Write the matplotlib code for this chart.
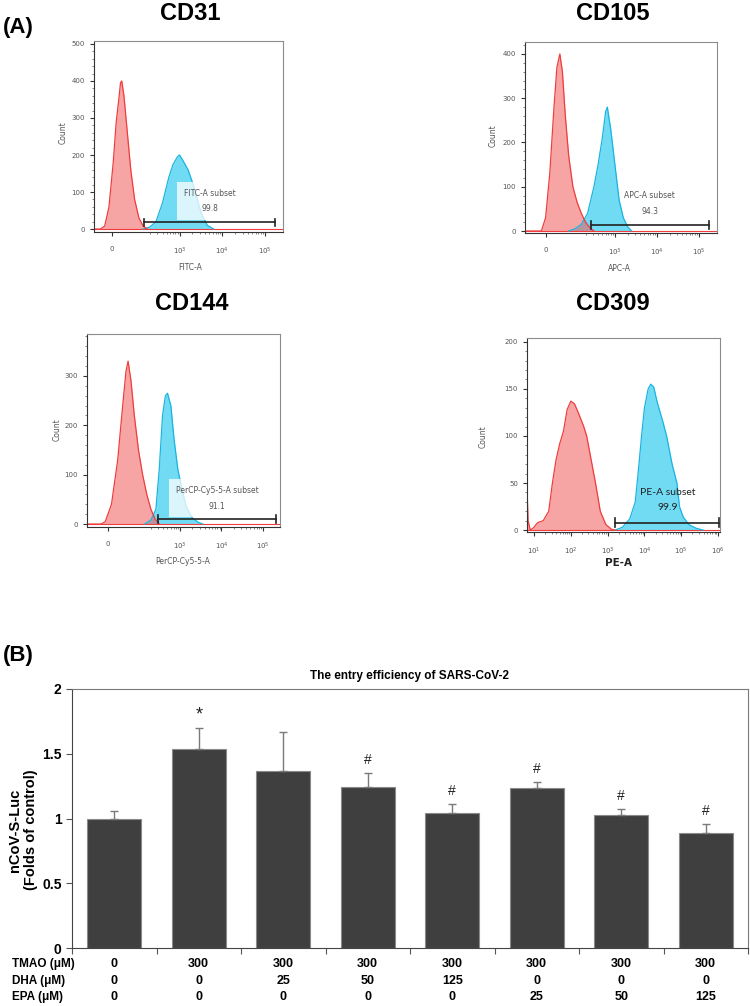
import numpy as np
import matplotlib
matplotlib.use('Agg')
import matplotlib.pyplot as plt

# ---- Panel A: flow cytometry histograms (x in decade units) ----
cd31_red_x = [1.00, 1.15, 1.25, 1.35, 1.45, 1.52, 1.58, 1.62, 1.65, 1.70, 1.78, 1.86, 1.95, 2.05, 2.15, 2.25]
cd31_red_y = [0, 0, 8, 60, 180, 290, 350, 395, 400, 360, 260, 160, 80, 30, 8, 0]
cd31_blue_x = [2.15, 2.30, 2.45, 2.60, 2.75, 2.85, 2.95, 3.00, 3.08, 3.20, 3.35, 3.50, 3.65, 3.80]
cd31_blue_y = [0, 5, 20, 70, 140, 175, 195, 200, 185, 160, 110, 45, 10, 0]

cd105_red_x = [0.86, 1.25, 1.35, 1.45, 1.55, 1.62, 1.69, 1.75, 1.82, 1.90, 2.00, 2.10, 2.20, 2.30, 2.40, 2.50]
cd105_red_y = [0, 0, 30, 130, 280, 370, 400, 360, 260, 170, 100, 65, 40, 20, 8, 0]
cd105_blue_x = [1.90, 2.05, 2.20, 2.35, 2.50, 2.60, 2.70, 2.78, 2.82, 2.90, 3.00, 3.10, 3.20, 3.30, 3.40]
cd105_blue_y = [0, 5, 15, 40, 100, 150, 210, 270, 280, 230, 150, 70, 30, 10, 0]

cd144_red_x = [0.76, 1.10, 1.20, 1.35, 1.50, 1.62, 1.70, 1.75, 1.82, 1.90, 2.00, 2.10, 2.20, 2.30, 2.40, 2.50]
cd144_red_y = [0, 0, 5, 40, 130, 240, 310, 330, 290, 220, 150, 100, 60, 30, 10, 0]
cd144_blue_x = [2.15, 2.30, 2.42, 2.50, 2.58, 2.65, 2.70, 2.78, 2.86, 2.95, 3.05, 3.15, 3.30, 3.45, 3.55]
cd144_blue_y = [0, 8, 30, 110, 220, 260, 265, 240, 170, 110, 70, 35, 12, 3, 0]

cd309_red_x = [0.81, 0.84, 0.90, 1.00, 1.10, 1.25, 1.40, 1.50, 1.60, 1.70, 1.80, 1.90, 2.00, 2.10, 2.20, 2.35, 2.43, 2.55, 2.67, 2.80, 2.95, 3.10, 3.20]
cd309_red_y = [45, 10, 0, 3, 8, 10, 20, 50, 75, 92, 105, 128, 137, 134, 125, 110, 100, 75, 50, 20, 6, 1, 0]
cd309_blue_x = [3.20, 3.40, 3.60, 3.75, 3.85, 3.92, 4.00, 4.10, 4.17, 4.25, 4.35, 4.50, 4.60, 4.75, 4.88, 4.95, 5.05, 5.20, 5.40, 5.60]
cd309_blue_y = [0, 3, 12, 30, 70, 100, 130, 150, 155, 152, 135, 115, 100, 70, 50, 25, 14, 6, 2, 0]

flow_titles = ['CD31', 'CD105', 'CD144', 'CD309']
flow_xlabels = ['FITC-A', 'APC-A', 'PerCP-Cy5-5-A', 'PE-A']
gate_names = ['FITC-A subset', 'APC-A subset', 'PerCP-Cy5-5-A subset', 'PE-A subset']
gate_pcts = ['99.8', '94.3', '91.1', '99.9']

# ---- Panel B: bar chart ----
bar_vals = [1.0, 1.54, 1.367, 1.24, 1.042, 1.235, 1.027, 0.888]
bar_errs = [0.055, 0.162, 0.30, 0.108, 0.068, 0.045, 0.043, 0.069]
bar_marks = ['', '*', '', '#', '#', '#', '#', '#']
tmao = ['0', '300', '300', '300', '300', '300', '300', '300']
dha = ['0', '0', '25', '50', '125', '0', '0', '0']
epa = ['0', '0', '0', '0', '0', '25', '50', '125']
row_names = ['TMAO (\u03bcM)', 'DHA (\u03bcM)', 'EPA (\u03bcM)']

W, H = 750, 1006
fig = plt.figure(figsize=(W / 100, H / 100), dpi=100)


def box(l, t, r, b):
    return [l / W, 1 - b / H, (r - l) / W, (b - t) / H]


def ftext(x, y, s, **kw):
    fig.text(x / W, 1 - y / H, s, **kw)


RED_F, RED_E = '#f25a5a', '#f03c3c'
BLUE_F, BLUE_E = '#14c4ee', '#1ab4e0'
TXT = '#555555'


def flow_axes(rect, xlim, ylim, ymaj, ymin_step, zero_pos, red, blue, gate, logx=False):
    ax = fig.add_axes(rect)
    ax.fill_between(blue[0], blue[1], color=BLUE_F, alpha=0.6, lw=0)
    ax.plot(blue[0], blue[1], color=BLUE_E, lw=0.9)
    ax.fill_between(red[0], red[1], color=RED_F, alpha=0.55, lw=0)
    ax.plot(red[0], red[1], color=RED_E, lw=0.9)
    ax.axhline(0, color=RED_E, lw=0.8, zorder=1)
    ax.set_xlim(*xlim)
    ax.set_ylim(*ylim)
    ax.set_yticks(ymaj)
    ax.set_yticks(np.arange(0, ylim[1], ymin_step), minor=True)
    ax.tick_params(axis='y', labelsize=5, colors='#333333', labelcolor=TXT, length=3, width=0.8)
    ax.tick_params(axis='y', which='minor', length=1.5, width=0.5, colors='#555555')
    if logx:
        major = [1, 2, 3, 4, 5, 6]
        labels = ['10$^{%d}$' % d for d in major]
        dec = [1, 2, 3, 4, 5]
    else:
        major = [zero_pos, 3, 4, 5]
        labels = ['0', '10$^{3}$', '10$^{4}$', '10$^{5}$']
        dec = [2, 3, 4]
    minor = [d + np.log10(k) for d in dec for k in range(2, 10)]
    ax.set_xticks(major)
    ax.set_xticklabels(labels)
    ax.set_xticks([m for m in minor if xlim[0] < m < xlim[1]], minor=True)
    ax.tick_params(axis='x', labelsize=5, labelcolor=TXT, colors='#333333', length=3, width=0.8, pad=7)
    ax.tick_params(axis='x', which='minor', length=1.5, width=0.5, colors='#555555')
    for s in ['top', 'right']:
        ax.spines[s].set_color('#8c8c8c')
    for s in ['left', 'bottom']:
        ax.spines[s].set_color('#333333')
    # gate bar
    ax.plot([gate[0], gate[1]], [gate[2], gate[2]], color='#222222', lw=1.2)
    ax.plot([gate[0], gate[0]], [gate[2] - gate[3], gate[2] + gate[3]], color='#222222', lw=1.2)
    ax.plot([gate[1], gate[1]], [gate[2] - gate[3], gate[2] + gate[3]], color='#222222', lw=1.2)
    return ax


WBOX = dict(facecolor='white', edgecolor='none', alpha=0.75, pad=5)

# CD31
ax1 = flow_axes(box(94, 41, 283, 232), (1.0, 5.42), (-8, 508), [0, 100, 200, 300, 400, 500], 20, 1.42,
                (cd31_red_x, cd31_red_y), (cd31_blue_x, cd31_blue_y), (2.18, 5.24, 18, 10))
ax1.text(3.72, 75, gate_names[0] + '\n' + gate_pcts[0], fontsize=5.5, color=TXT, ha='center',
         va='center', linespacing=1.9, bbox=WBOX)

# CD105
ax2 = flow_axes(box(525, 42, 717, 233), (0.86, 5.43), (-4.5, 427), [0, 100, 200, 300, 400], 20, 1.36,
                (cd105_red_x, cd105_red_y), (cd105_blue_x, cd105_blue_y), (2.43, 5.24, 14, 9))
ax2.text(3.83, 62, gate_names[1] + '\n' + gate_pcts[1], fontsize=5.5, color=TXT, ha='center',
         va='center', linespacing=1.9)

# CD144
ax3 = flow_axes(box(87, 334, 280, 527), (0.76, 5.41), (-6, 385), [0, 100, 200, 300], 20, 1.27,
                (cd144_red_x, cd144_red_y), (cd144_blue_x, cd144_blue_y), (2.47, 5.31, 10, 8))
ax3.text(3.89, 52, gate_names[2] + '\n' + gate_pcts[2], fontsize=5.5, color=TXT, ha='center',
         va='center', linespacing=1.9, bbox=WBOX)

# CD309
ax4 = flow_axes(box(527, 338, 720, 532), (0.81, 6.05), (-2, 204), [0, 50, 100, 150, 200], 10, None,
                (cd309_red_x, cd309_red_y), (cd309_blue_x, cd309_blue_y), (3.2, 6.02, 8, 5), logx=True)
ax4.text(4.62, 40, gate_names[3], fontsize=7.5, color='#222222', ha='center', va='center', family='Lato')
ax4.text(4.62, 24, gate_pcts[3], fontsize=7.5, color='#222222', ha='center', va='center', family='Lato')

# titles and labels
for (x, y), t in zip([(190, 13), (613, 13), (192, 304), (613, 304)], flow_titles):
    ftext(x, y, t, fontsize=17, fontweight='bold', ha='center', va='center', family='Liberation Sans')
for (x, y) in [(63, 133), (493, 136), (57, 430), (483, 437)]:
    ftext(x, y, 'Count', fontsize=5.5, color=TXT, rotation=90, ha='center', va='center')
for (x, y), t in zip([(190, 267), (619, 268), (183, 562)], flow_xlabels[:3]):
    ftext(x, y, t, fontsize=5.5, color=TXT, ha='center', va='center')
ftext(618, 563, flow_xlabels[3], fontsize=7.5, color='#222222', fontweight='bold', ha='center', va='center')
ftext(3, 27, '(A)', fontsize=16, fontweight='bold', ha='left', va='center', family='Liberation Sans')
ftext(3, 656, '(B)', fontsize=16, fontweight='bold', ha='left', va='center', family='Liberation Sans')

# ---- Panel B ----
BF = ['Liberation Sans', 'DejaVu Sans']
axb = fig.add_axes(box(72, 689, 748, 948))
x = np.arange(len(bar_vals))
axb.bar(x, bar_vals, width=0.64, color='#3f3f3f', edgecolor='#8a8a8a', lw=0.8, zorder=2)
axb.errorbar(x, bar_vals, yerr=[np.zeros(len(bar_errs)), bar_errs], fmt='none',
             ecolor='#7a7a7a', elinewidth=1.0, capsize=3, capthick=1.0, zorder=3)
for xi, v, e, m in zip(x, bar_vals, bar_errs, bar_marks):
    if m:
        axb.text(xi, v + e + 0.1, m, ha='center', va='center', fontsize=13 if m == '*' else 10,
                 family=BF, color='#222222')
axb.set_xlim(-0.5, len(bar_vals) - 0.5)
axb.set_ylim(0, 2)
axb.set_yticks([0, 0.5, 1, 1.5, 2])
axb.set_yticklabels(['0', '0.5', '1', '1.5', '2'], family=BF, fontweight='bold', fontsize=10)
axb.set_xticks(np.arange(-0.5, len(bar_vals), 1))
axb.set_xticklabels([])
axb.tick_params(axis='both', length=4, width=0.8, colors='#555555', labelcolor='black')
for s in ['top', 'right']:
    axb.spines[s].set_color('#7a7a7a')
for s in ['left', 'bottom']:
    axb.spines[s].set_color('#444444')
axb.set_title('The entry efficiency of SARS-CoV-2', family=BF, fontweight='bold',
              fontsize=8.5, pad=7)
trans = axb.get_xaxis_transform()
for row, yy in zip([tmao, dha, epa], [-0.062, -0.127, -0.189]):
    for xi, t in zip(x, row):
        axb.text(xi, yy, t, transform=trans, ha='center', va='center', family=BF,
                 fontweight='bold', fontsize=9, clip_on=False)
for name, yy in zip(row_names, [964, 981, 997]):
    ftext(12, yy, name, family=BF, fontweight='bold', fontsize=8.5, ha='left', va='center')
ftext(23, 830, 'nCoV-S-Luc\n(Folds of control)', family=BF,
      fontweight='bold', fontsize=10.5, rotation=90, ha='center', va='center', linespacing=1.2)

fig.savefig('out.png', dpi=100)
